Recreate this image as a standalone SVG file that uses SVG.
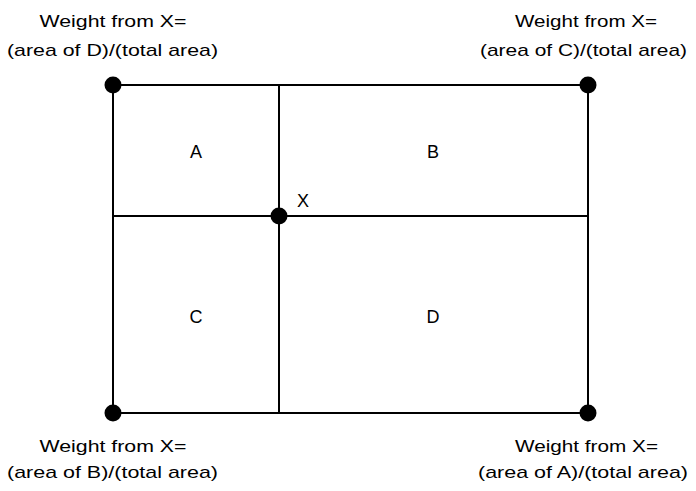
<svg xmlns="http://www.w3.org/2000/svg" width="696" height="491" viewBox="0 0 696 491">
<style>
.t{font-family:"Liberation Sans",Arial,sans-serif;font-size:17px;fill:#000;text-anchor:middle}
.r{font-family:"Liberation Sans",Arial,sans-serif;font-size:18px;fill:#000;text-anchor:middle}
.ln{stroke:#000;stroke-width:2;fill:none}
.dot{fill:#000}
</style>
<rect width="696" height="491" fill="#fff"/>
<g id="connectors">
<rect class="ln" x="113" y="85" width="475" height="328"/>
<line class="ln" x1="279" y1="85" x2="279" y2="413"/>
<line class="ln" x1="113" y1="216" x2="588" y2="216"/>
</g>
<g id="regionA"><text class="r" x="196" y="158">A</text></g>
<g id="regionB"><text class="r" x="433" y="158">B</text></g>
<g id="regionC"><text class="r" x="196" y="323">C</text></g>
<g id="regionD"><text class="r" x="433" y="323">D</text></g>
<g id="nodeX"><circle class="dot" cx="279" cy="216" r="8.5"/><text class="r" x="303" y="207">X</text></g>
<g id="cornerTL"><circle class="dot" cx="113" cy="85" r="8.5"/>
<text class="t" x="113" y="27" textLength="147" lengthAdjust="spacingAndGlyphs">Weight from X=</text>
<text class="t" x="112.5" y="56" textLength="211" lengthAdjust="spacingAndGlyphs">(area of D)/(total area)</text></g>
<g id="cornerTR"><circle class="dot" cx="588" cy="85" r="8.5"/>
<text class="t" x="586" y="27" textLength="142" lengthAdjust="spacingAndGlyphs">Weight from X=</text>
<text class="t" x="583.5" y="56" textLength="207" lengthAdjust="spacingAndGlyphs">(area of C)/(total area)</text></g>
<g id="cornerBL"><circle class="dot" cx="113" cy="413" r="8.5"/>
<text class="t" x="113" y="452" textLength="147" lengthAdjust="spacingAndGlyphs">Weight from X=</text>
<text class="t" x="112.5" y="478" textLength="211" lengthAdjust="spacingAndGlyphs">(area of B)/(total area)</text></g>
<g id="cornerBR"><circle class="dot" cx="588" cy="413" r="8.5"/>
<text class="t" x="586.5" y="452" textLength="143" lengthAdjust="spacingAndGlyphs">Weight from X=</text>
<text class="t" x="583" y="478" textLength="210" lengthAdjust="spacingAndGlyphs">(area of A)/(total area)</text></g>
</svg>
